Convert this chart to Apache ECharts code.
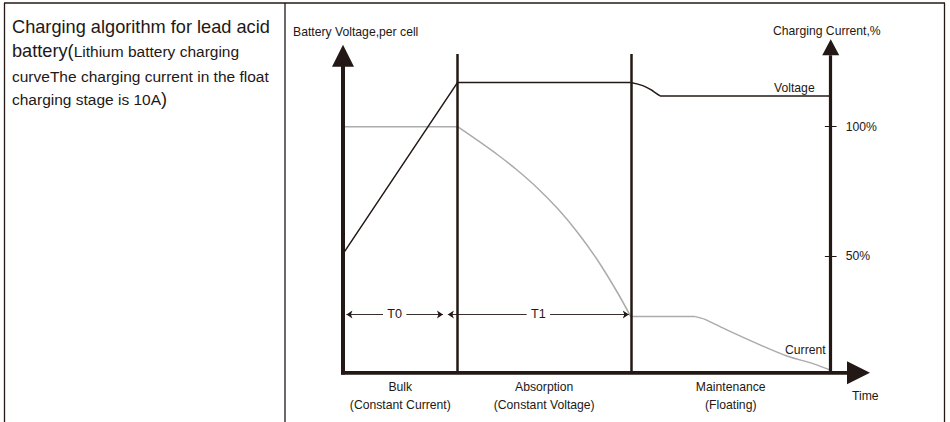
<!DOCTYPE html>
<html><head><meta charset="utf-8">
<script src="https://cdn.jsdelivr.net/npm/echarts@6/dist/echarts.min.js"></script>
<style>
html,body{margin:0;padding:0;background:#fff;}
#c{position:absolute;left:0;top:0;width:950px;height:422px;}
.lt{position:absolute;left:12px;white-space:nowrap;font-family:'Liberation Sans',Arial,sans-serif;color:#231815;font-size:15.5px;line-height:24px;}
.big{font-size:18.2px;}
</style>
</head><body>
<div id="c"></div>
<div class="lt" id="l1" style="top:14.8px"><span class="big">Charging algorithm for lead acid</span></div>
<div class="lt" id="l2" style="top:39.3px"><span class="big">battery(</span>Lithium battery charging</div>
<div class="lt" id="l3" style="top:64.6px">curveThe charging current in the float</div>
<div class="lt" id="l4" style="top:86.8px">charging stage is 10A<span class="big">)</span></div>
<script>
// ---- data (time axis 0..100 between the two vertical axes; level axis in "current %" units) ----
const stageNames = ['Bulk', 'Absorption', 'Maintenance'];
const stageSubNames = ['(Constant Current)', '(Constant Voltage)', '(Floating)'];
const stageBounds = [0, 23.5, 59.0, 100];
const dividerTop = 129.6;
const voltageRise = [[0, 48.3], [23.5, 118], [59.0, 118]];
const voltageBend = [[59.0, 118], [61.6, 116.6], [63.7, 114.3], [65.0, 112.5]];
const voltageFloat = [[65.0, 112.5], [100, 112.5]];
const currentBulk = [[0, 100], [23.5, 100]];
const currentAbsorb = [[23.5, 100], [27.6, 94.4], [31.7, 88.6], [35.8, 82.2], [39.9, 75.0], [44.0, 66.7], [48.1, 57.0], [52.2, 45.7], [56.3, 32.5], [59.0, 22.8]];
const currentFloatFlat = [[59.0, 22.8], [72.2, 22.8]];
const currentFloatTail = [[72.2, 22.8], [74.2, 21.7], [78.7, 17.4], [85.5, 11.3], [91.0, 6.8], [96.5, 3.6], [100, 1.0]];
const currentTicks = [100, 47.4];
const currentTickLabels = ['100%', '50%'];
const periodNames = ['T0', 'T1'];
const periodSpans = [[0.7, 20.5], [21.5, 58.6]];
const periodLevel = 23.7;
const leftAxisTop = 125;
const rightAxisTop = 129;
const timeAxisEnd = 104;
const leftArrowAt = [0, 128.8];
const rightArrowAt = [100, 132.3];
const timeArrowAt = [105.7, 0];

const INK = '#231815';
const GREY = '#ababab';
const FONT = "'Liberation Sans', Arial, sans-serif";

const chart = echarts.init(document.getElementById('c'), null, {renderer: 'svg'});

function lineSeries(data, color, smooth) {
  return {type: 'line', data: data, smooth: smooth || false, symbol: 'none', silent: true,
    lineStyle: {color: color, width: 1.5}, z: 3};
}
function segs(list, width, z) {
  return {type: 'lines', coordinateSystem: 'cartesian2d', silent: true, z: z || 4,
    lineStyle: {color: INK, width: width, opacity: 1, cap: 'butt'},
    data: list.map(c => ({coords: c}))};
}

const tickHalf = 1.2;
const labelGap = 2.4;
const leftDims = periodSpans.map(s => [[s[0], periodLevel], [(s[0] + s[1]) / 2 - labelGap, periodLevel]]);
const rightDims = periodSpans.map(s => [[(s[0] + s[1]) / 2 + labelGap, periodLevel], [s[1], periodLevel]]);

chart.setOption({
  animation: false,
  grid: {left: 343, right: 70.5, top: 28.3, bottom: 49.3},
  xAxis: {type: 'value', min: 0, max: 110, show: false},
  yAxis: {type: 'value', min: 0, max: 140, show: false},
  series: [
    lineSeries(currentBulk, GREY, false),
    lineSeries(currentAbsorb, GREY, 0.3),
    lineSeries(currentFloatFlat, GREY, false),
    lineSeries(currentFloatTail, GREY, 0.3),
    lineSeries(voltageRise, INK, false),
    lineSeries(voltageBend, INK, 0.4),
    lineSeries(voltageFloat, INK, false),
    segs([[[stageBounds[0], -0.8], [stageBounds[0], leftAxisTop]]], 4, 6),
    segs([[[-0.4, 0], [timeAxisEnd, 0]]], 4, 6),
    segs([[[stageBounds[3], 0], [stageBounds[3], rightAxisTop]]], 3.2, 6),
    segs([[[stageBounds[1], 0], [stageBounds[1], dividerTop]], [[stageBounds[2], 0], [stageBounds[2], dividerTop]]], 2.5, 6),
    segs(currentTicks.map(v => [[stageBounds[3] - tickHalf, v], [stageBounds[3] + tickHalf, v]]), 1.2, 6),
    Object.assign(segs(leftDims, 0.9, 5), {symbol: ['arrow', 'none'], symbolSize: 6}),
    Object.assign(segs(rightDims, 0.9, 5), {symbol: ['none', 'arrow'], symbolSize: 6}),
    {type: 'scatter', silent: true, z: 7, symbol: 'triangle', itemStyle: {color: INK, opacity: 1},
      data: [
        {value: leftArrowAt, symbolSize: [22, 22]},
        {value: rightArrowAt, symbolSize: [17, 16]},
        {value: timeArrowAt, symbolSize: [23, 23], symbolRotate: -90}
      ]}
  ]
});

const P = (x, y) => chart.convertToPixel({gridIndex: 0}, [x, y]);
const g = [];
function txt(text, x, y, align, size, color) {
  g.push({type: 'text', silent: true, z: 10, x: x, y: y,
    style: {text: text, fill: color || INK, font: (size || 12.2) + 'px ' + FONT, align: align || 'left', verticalAlign: 'middle'}});
}
function rule(x1, y1, x2, y2) {
  g.push({type: 'line', silent: true, z: 10, shape: {x1: x1, y1: y1, x2: x2, y2: y2},
    style: {stroke: INK, lineWidth: 1.3}});
}
// table frame
rule(4, 3, 945, 3);
rule(4.5, 3, 4.5, 422);
rule(285, 3, 285, 422);
rule(944.5, 3, 944.5, 422);

const base = P(0, 0)[1];
// stage labels under time axis
for (let i = 0; i < stageNames.length; i++) {
  const cx = P((stageBounds[i] + stageBounds[i + 1]) / 2, 0)[0];
  txt(stageNames[i], cx, base + 14.5, 'center');
  txt(stageSubNames[i], cx, base + 32.5, 'center');
}
// period labels
periodSpans.forEach((s, i) => {
  const p = P((s[0] + s[1]) / 2, periodLevel);
  txt(periodNames[i], p[0], p[1], 'center', 12.6);
});
// right axis tick labels
const rx = P(stageBounds[3], 0)[0];
currentTicks.forEach((v, i) => txt(currentTickLabels[i], rx + 15, P(100, v)[1], 'left'));
// axis titles and curve names
txt('Battery Voltage,per cell', 293, 32, 'left', 12.2);
txt('Charging Current,%', 773, 31, 'left');
txt('Voltage', 774, P(100, voltageFloat[1][1])[1] - 8, 'left');
txt('Current', 785, 350, 'left');
txt('Time', 852, base + 23, 'left');

chart.setOption({graphic: g});
</script>
</body></html>
